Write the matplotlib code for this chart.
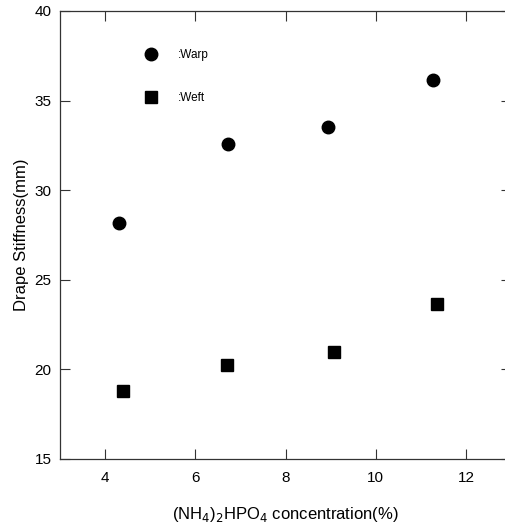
import matplotlib
matplotlib.use("Agg")
import matplotlib.pyplot as plt

plt.rcParams['font.family'] = ['Liberation Sans', 'DejaVu Sans']

conc_warp = [4.3, 6.73, 8.95, 11.28]
warp = [28.15, 32.6, 33.5, 36.15]
conc_weft = [4.4, 6.7, 9.07, 11.37]
weft = [18.8, 20.25, 20.95, 23.65]

xticks = [4, 6, 8, 10, 12]
yticks = [15, 20, 25, 30, 35, 40]

fig = plt.figure(figsize=(5.06, 5.31), dpi=100)
ax = fig.add_axes([60/506, 72/531, 451/506, 448/531])

ax.plot(conc_warp, warp, 'o', color='black', markersize=9, label=':Warp', linestyle='none')
ax.plot(conc_weft, weft, 's', color='black', markersize=8, label=':Weft', linestyle='none')

ax.set_xlim(3, 13)
ax.set_ylim(15, 40)
ax.set_xticks(xticks)
ax.set_yticks(yticks)
ax.tick_params(direction='in', length=7, width=0.8, top=True, right=True,
               labelsize=11, color='#333333', pad=6)
ax.tick_params(axis='x', pad=9)
for s in ax.spines.values():
    s.set_linewidth(0.9)
    s.set_color('#333333')

ax.set_ylabel('Drape Stiffness(mm)', fontsize=12, labelpad=4)
ax.set_xlabel(r'(NH$_4$)$_2$HPO$_4$ concentration(%)', fontsize=12, labelpad=14)

leg = ax.legend(loc='upper left', bbox_to_anchor=(0.188, 0.915), frameon=False,
                fontsize=8.5, labelspacing=2.6, handlelength=1.0, handletextpad=1.8,
                borderpad=0, borderaxespad=0)

fig.savefig('out.png', dpi=100)
